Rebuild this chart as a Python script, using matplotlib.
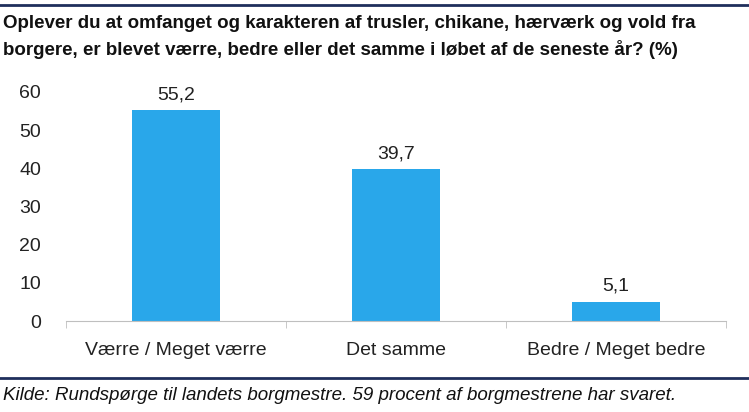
import matplotlib
matplotlib.use('Agg')
import matplotlib.pyplot as plt
from matplotlib.lines import Line2D

plt.rcParams['font.family'] = ['Liberation Sans', 'DejaVu Sans']

categories = ['Værre / Meget værre', 'Det samme', 'Bedre / Meget bedre']
values = [55.2, 39.7, 5.1]
yticks = [0, 10, 20, 30, 40, 50, 60]

title = ('Oplever du at omfanget og karakteren af trusler, chikane, hærværk og vold fra\n'
         'borgere, er blevet værre, bedre eller det samme i løbet af de seneste år? (%)')
source = 'Kilde: Rundspørge til landets borgmestre. 59 procent af borgmestrene har svaret.'

bar_color = '#29A7EA'
navy = '#1F2F5C'

fig = plt.figure(figsize=(7.49, 4.12), dpi=100)
ax = fig.add_axes([66/749, 91/412, 660/749, 229/412])

x = range(len(categories))
bars = ax.bar(x, values, width=0.4, color=bar_color)

for b, v in zip(bars, values):
    ax.annotate(f'{v:.1f}'.replace('.', ','), (b.get_x() + b.get_width()/2, v),
                textcoords='offset points', xytext=(0, 5), ha='center', va='bottom',
                fontsize=14, color='#222222')

ax.set_xlim(-0.5, 2.5)
ax.set_ylim(0, 60)
ax.set_yticks(yticks)
ax.set_xticks(list(x))
ax.set_xticklabels(categories)
ax.set_xticks([-0.5, 0.5, 1.5, 2.5], minor=True)

for s in ['top', 'right', 'left']:
    ax.spines[s].set_visible(False)
ax.spines['bottom'].set_color('#BFBFBF')
ax.tick_params(axis='x', which='major', length=0, pad=15, labelsize=14, labelcolor='#222222')
ax.tick_params(axis='x', which='minor', length=5, color='#BFBFBF', direction='out')
ax.tick_params(axis='y', length=0, pad=18, labelsize=14, labelcolor='#222222')

fig.text(3/749, 1 - 15/412, title, ha='left', va='top', fontsize=13.5, fontweight='bold',
         color='#111111', linespacing=1.55)
fig.text(3/749, 1 - 400/412, source, ha='left', va='baseline', fontsize=13.5,
         style='italic', color='#111111')

fig.add_artist(Line2D([0, 1], [1 - 5/412, 1 - 5/412], color=navy, lw=2))
fig.add_artist(Line2D([0, 1], [1 - 378/412, 1 - 378/412], color=navy, lw=2))

fig.savefig('out.png', dpi=100)
